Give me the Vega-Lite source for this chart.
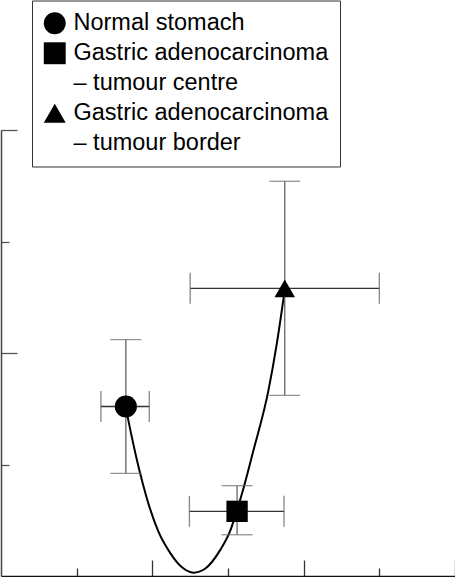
{
  "$schema": "https://vega.github.io/schema/vega-lite/v6.json",
  "autosize": "none",
  "width": 454,
  "height": 446,
  "padding": {"left": 1, "top": 130, "right": 0, "bottom": 1},
  "background": "white",
  "config": {
    "view": {"stroke": null},
    "font": "Liberation Sans"
  },
  "datasets": {
    "points": [
      {"group": "Normal stomach", "x": 1.65, "xlo": 1.32, "xhi": 1.96, "y": 1.52, "ylo": 0.92, "yhi": 2.12},
      {"group": "Gastric adenocarcinoma – tumour centre", "x": 3.12, "xlo": 2.49, "xhi": 3.74, "y": 0.58, "ylo": 0.37, "yhi": 0.81},
      {"group": "Gastric adenocarcinoma – tumour border", "x": 3.75, "xlo": 2.5, "xhi": 5.0, "y": 2.58, "ylo": 1.62, "yhi": 3.54}
    ],
    "curve": [
      {"x": 1.648, "y": 1.518},
      {"x": 1.682, "y": 1.40},
      {"x": 1.828, "y": 0.95},
      {"x": 1.926, "y": 0.70},
      {"x": 2.079, "y": 0.40},
      {"x": 2.233, "y": 0.21},
      {"x": 2.388, "y": 0.08},
      {"x": 2.545, "y": 0.03},
      {"x": 2.696, "y": 0.065},
      {"x": 2.894, "y": 0.23},
      {"x": 3.026, "y": 0.40},
      {"x": 3.115, "y": 0.58},
      {"x": 3.202, "y": 0.78},
      {"x": 3.334, "y": 1.12},
      {"x": 3.533, "y": 1.66},
      {"x": 3.644, "y": 2.08},
      {"x": 3.753, "y": 2.58}
    ]
  },
  "encoding": {
    "x": {"type": "quantitative", "scale": {"domain": [0, 6], "nice": false, "zero": false}},
    "y": {"type": "quantitative", "scale": {"domain": [0, 4], "nice": false, "zero": false}}
  },
  "layer": [
    {
      "data": {"name": "curve"},
      "mark": {"type": "line", "interpolate": "monotone", "color": "black", "strokeWidth": 2},
      "encoding": {
        "x": {"field": "x", "type": "quantitative",
          "axis": {"values": [1, 2, 3, 4, 5, 6], "labels": false, "grid": false, "title": null,
            "domainColor": "#111", "domainWidth": 1.5, "tickColor": "#333", "tickWidth": 1.3,
            "tickSize": {"condition": {"test": "datum.value % 2 === 0", "value": -16}, "value": -8}}},
        "y": {"field": "y", "type": "quantitative",
          "axis": {"values": [1, 2, 3, 4], "labels": false, "grid": false, "title": null,
            "domainColor": "#444", "domainWidth": 1.5, "tickColor": "#555", "tickWidth": 1.3,
            "tickSize": {"condition": {"test": "datum.value % 2 === 0", "value": -16}, "value": -8}}}
      }
    },
    {
      "data": {"name": "points"},
      "mark": {"type": "rule", "color": "#333", "strokeWidth": 1.3},
      "encoding": {
        "x": {"field": "xlo", "type": "quantitative"},
        "x2": {"field": "xhi"},
        "y": {"field": "y", "type": "quantitative"}
      }
    },
    {
      "data": {"name": "points"},
      "mark": {"type": "rule", "color": "#666", "strokeWidth": 1.3},
      "encoding": {
        "x": {"field": "x", "type": "quantitative"},
        "y": {"field": "ylo", "type": "quantitative"},
        "y2": {"field": "yhi"}
      }
    },
    {
      "data": {"name": "points"},
      "mark": {"type": "tick", "orient": "vertical", "size": 31, "thickness": 1.3, "color": "#555"},
      "encoding": {
        "x": {"field": "xlo", "type": "quantitative"},
        "y": {"field": "y", "type": "quantitative"}
      }
    },
    {
      "data": {"name": "points"},
      "mark": {"type": "tick", "orient": "vertical", "size": 31, "thickness": 1.3, "color": "#555"},
      "encoding": {
        "x": {"field": "xhi", "type": "quantitative"},
        "y": {"field": "y", "type": "quantitative"}
      }
    },
    {
      "data": {"name": "points"},
      "mark": {"type": "tick", "orient": "horizontal", "size": 31, "thickness": 1.3, "color": "#666"},
      "encoding": {
        "x": {"field": "x", "type": "quantitative"},
        "y": {"field": "ylo", "type": "quantitative"}
      }
    },
    {
      "data": {"name": "points"},
      "mark": {"type": "tick", "orient": "horizontal", "size": 31, "thickness": 1.3, "color": "#666"},
      "encoding": {
        "x": {"field": "x", "type": "quantitative"},
        "y": {"field": "yhi", "type": "quantitative"}
      }
    },
    {
      "data": {"name": "points"},
      "mark": {"type": "point", "filled": true, "color": "black", "opacity": 1},
      "encoding": {
        "x": {"field": "x", "type": "quantitative"},
        "y": {"field": "y", "type": "quantitative"},
        "size": {"field": "group", "type": "nominal", "legend": null,
          "scale": {"domain": ["Normal stomach", "Gastric adenocarcinoma – tumour centre", "Gastric adenocarcinoma – tumour border"], "range": [490, 420, 640]}},
        "shape": {"field": "group", "type": "nominal",
          "scale": {
            "domain": ["Normal stomach", "Gastric adenocarcinoma – tumour centre", "– tumour centre", "Gastric adenocarcinoma – tumour border", "– tumour border"],
            "range": ["circle", "square", "M0,0", "triangle-up", "M0,0"]
          },
          "legend": {
            "title": null,
            "orient": "none",
            "legendX": 31,
            "legendY": -129.5,
            "direction": "vertical",
            "fillColor": "white",
            "strokeColor": "#333",
            "padding": 11,
            "symbolSize": 480,
            "symbolFillColor": "black",
            "symbolStrokeColor": "black",
            "symbolStrokeWidth": 0,
            "symbolOpacity": 1,
            "labelFont": "Liberation Sans",
            "labelFontSize": 23.5,
            "labelColor": "black",
            "labelOffset": 7,
            "labelLimit": 0,
            "rowPadding": 5,
            "labelExpr": "indexof(datum.value, 'Gastric') === 0 ? 'Gastric adenocarcinoma' : datum.value"
          }
        }
      }
    }
  ]
}
